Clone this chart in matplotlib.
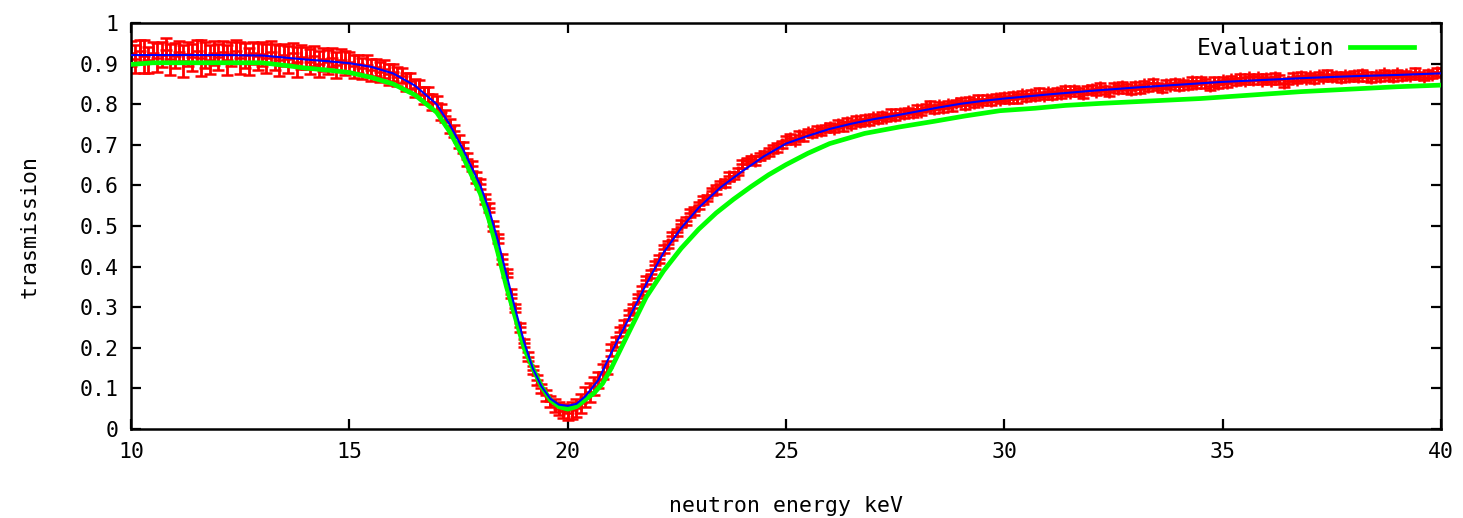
import numpy as np
import matplotlib
matplotlib.use("Agg")
import matplotlib.pyplot as plt

plt.rcParams['font.family'] = ['DejaVu Sans Mono']

# measured transmission, one channel every 0.1 keV from 10 to 40 keV
energy = np.linspace(10.0, 40.0, 301)
transmission = [
    0.925, 0.912, 0.931, 0.918, 0.909, 0.927, 0.915, 0.922, 0.934, 0.911,
    0.919, 0.928, 0.906, 0.924, 0.916, 0.930, 0.913, 0.921, 0.910, 0.926,
    0.917, 0.929, 0.908, 0.923, 0.931, 0.914, 0.920, 0.905, 0.927, 0.918,
    0.924, 0.913, 0.929, 0.916, 0.908, 0.921, 0.911, 0.925, 0.904, 0.917,
    0.913, 0.905, 0.918, 0.899, 0.911, 0.904, 0.915, 0.897, 0.909, 0.901,
    0.904, 0.893, 0.900, 0.888, 0.897, 0.885, 0.891, 0.879, 0.887, 0.874,
    0.879, 0.868, 0.870, 0.855, 0.857, 0.840, 0.842, 0.822, 0.824, 0.806,
    0.803, 0.781, 0.771, 0.746, 0.734, 0.708, 0.693, 0.664, 0.648, 0.619,
    0.604, 0.567, 0.545, 0.500, 0.470, 0.419, 0.385, 0.333, 0.299, 0.251,
    0.212, 0.178, 0.146, 0.121, 0.100, 0.083, 0.068, 0.058, 0.050, 0.044,
    0.040, 0.046, 0.052, 0.063, 0.078, 0.090, 0.106, 0.121, 0.141, 0.152,
    0.195, 0.214, 0.240, 0.256, 0.281, 0.297, 0.323, 0.340, 0.366, 0.381,
    0.405, 0.419, 0.444, 0.455, 0.476, 0.484, 0.506, 0.512, 0.532, 0.537,
    0.551, 0.563, 0.569, 0.585, 0.590, 0.604, 0.606, 0.622, 0.624, 0.634,
    0.652, 0.660, 0.664, 0.661, 0.672, 0.676, 0.683, 0.690, 0.694, 0.701,
    0.712, 0.716, 0.709, 0.724, 0.721, 0.731, 0.728, 0.737, 0.733, 0.741,
    0.744, 0.740, 0.751, 0.746, 0.757, 0.750, 0.761, 0.755, 0.763, 0.758,
    0.768, 0.763, 0.772, 0.767, 0.776, 0.770, 0.779, 0.775, 0.783, 0.778,
    0.787, 0.781, 0.792, 0.796, 0.788, 0.797, 0.791, 0.800, 0.795, 0.803,
    0.806, 0.799, 0.809, 0.803, 0.811, 0.806, 0.814, 0.808, 0.816, 0.811,
    0.818, 0.812, 0.821, 0.815, 0.824, 0.817, 0.826, 0.819, 0.828, 0.821,
    0.829, 0.822, 0.831, 0.825, 0.834, 0.827, 0.836, 0.829, 0.824, 0.835,
    0.838, 0.830, 0.842, 0.835, 0.829, 0.843, 0.837, 0.845, 0.839, 0.834,
    0.846, 0.838, 0.849, 0.842, 0.851, 0.844, 0.839, 0.850, 0.845, 0.853,
    0.844, 0.852, 0.847, 0.856, 0.849, 0.858, 0.851, 0.845, 0.855, 0.849,
    0.859, 0.853, 0.862, 0.856, 0.864, 0.858, 0.866, 0.860, 0.867, 0.858,
    0.865, 0.858, 0.867, 0.861, 0.852, 0.857, 0.866, 0.860, 0.869, 0.863,
    0.869, 0.862, 0.871, 0.865, 0.873, 0.866, 0.870, 0.864, 0.872, 0.867,
    0.873, 0.866, 0.875, 0.869, 0.864, 0.872, 0.868, 0.876, 0.870, 0.866,
    0.876, 0.869, 0.874, 0.870, 0.877, 0.871, 0.868, 0.875, 0.872, 0.879,
    0.878,
]
uncertainty = [
    0.030, 0.034, 0.028, 0.041, 0.032, 0.026, 0.036, 0.030, 0.029, 0.038,
    0.031, 0.027, 0.039, 0.030, 0.033, 0.028, 0.044, 0.031, 0.035, 0.029,
    0.032, 0.026, 0.037, 0.030, 0.028, 0.040, 0.031, 0.034, 0.027, 0.033,
    0.029, 0.035, 0.027, 0.032, 0.038, 0.028, 0.033, 0.026, 0.036, 0.030,
    0.027, 0.031, 0.025, 0.033, 0.028, 0.030, 0.024, 0.032, 0.027, 0.029,
    0.025, 0.028, 0.022, 0.026, 0.024, 0.027, 0.021, 0.025, 0.023, 0.026,
    0.021, 0.024, 0.019, 0.022, 0.020, 0.023, 0.018, 0.021, 0.019, 0.020,
    0.017, 0.019, 0.015, 0.017, 0.014, 0.016, 0.013, 0.015, 0.013, 0.014,
    0.012, 0.013, 0.011, 0.012, 0.011, 0.012, 0.010, 0.011, 0.010, 0.011,
    0.010, 0.011, 0.010, 0.012, 0.012, 0.013, 0.014, 0.015, 0.016, 0.018,
    0.019, 0.021, 0.022, 0.024, 0.025, 0.023, 0.022, 0.020, 0.018, 0.016,
    0.014, 0.013, 0.012, 0.012, 0.011, 0.011, 0.010, 0.011, 0.010, 0.010,
    0.010, 0.009, 0.010, 0.009, 0.010, 0.009, 0.009, 0.010, 0.009, 0.009,
    0.009, 0.010, 0.008, 0.009, 0.011, 0.008, 0.009, 0.010, 0.008, 0.009,
    0.010, 0.008, 0.009, 0.011, 0.009, 0.008, 0.010, 0.009, 0.011, 0.008,
    0.009, 0.010, 0.008, 0.009, 0.011, 0.008, 0.009, 0.010, 0.008, 0.009,
    0.010, 0.008, 0.009, 0.011, 0.009, 0.008, 0.010, 0.009, 0.011, 0.008,
    0.009, 0.010, 0.008, 0.009, 0.011, 0.008, 0.009, 0.010, 0.008, 0.009,
    0.010, 0.008, 0.009, 0.011, 0.009, 0.008, 0.010, 0.009, 0.011, 0.008,
    0.009, 0.010, 0.008, 0.009, 0.011, 0.008, 0.009, 0.010, 0.008, 0.009,
    0.010, 0.008, 0.009, 0.011, 0.009, 0.008, 0.010, 0.009, 0.011, 0.008,
    0.009, 0.010, 0.008, 0.009, 0.011, 0.008, 0.009, 0.010, 0.008, 0.009,
    0.010, 0.008, 0.009, 0.011, 0.009, 0.008, 0.010, 0.009, 0.011, 0.008,
    0.009, 0.010, 0.008, 0.009, 0.011, 0.008, 0.009, 0.010, 0.008, 0.009,
    0.010, 0.008, 0.009, 0.011, 0.009, 0.008, 0.010, 0.009, 0.011, 0.008,
    0.009, 0.010, 0.008, 0.009, 0.011, 0.008, 0.009, 0.010, 0.008, 0.009,
    0.010, 0.008, 0.009, 0.011, 0.009, 0.008, 0.010, 0.009, 0.011, 0.008,
    0.009, 0.010, 0.008, 0.009, 0.011, 0.008, 0.009, 0.010, 0.008, 0.009,
    0.010, 0.008, 0.009, 0.011, 0.009, 0.008, 0.010, 0.009, 0.011, 0.008,
    0.009, 0.010, 0.008, 0.009, 0.011, 0.008, 0.009, 0.010, 0.008, 0.009,
    0.010,
]

# fitted curve
fit_energy = [10.0, 12.0, 13.0, 13.5, 14.0, 14.5, 15.0, 15.5, 16.0, 16.5,
              17.0, 17.3, 17.6, 17.8, 18.0, 18.2, 18.4, 18.6, 18.8, 19.0,
              19.2, 19.4, 19.6, 19.8, 20.0, 20.2, 20.4, 20.7, 21.0, 21.4,
              21.8, 22.2, 22.6, 23.0, 23.5, 24.0, 24.5, 25.0, 25.5, 26.0,
              26.5, 27.0, 27.5, 28.0, 28.5, 29.0, 29.5, 30.0, 31.0, 32.0,
              33.0, 34.0, 35.0, 36.0, 37.0, 38.0, 39.0, 40.0]
fit_trans = [0.921, 0.921, 0.920, 0.915, 0.910, 0.906, 0.901, 0.892, 0.876, 0.846,
             0.800, 0.750, 0.690, 0.645, 0.600, 0.540, 0.465, 0.380, 0.295, 0.215,
             0.150, 0.105, 0.075, 0.060, 0.057, 0.062, 0.080, 0.120, 0.188, 0.272,
             0.357, 0.435, 0.495, 0.545, 0.595, 0.635, 0.672, 0.703, 0.722, 0.739,
             0.752, 0.763, 0.772, 0.782, 0.792, 0.801, 0.808, 0.814, 0.824, 0.833,
             0.841, 0.848, 0.855, 0.860, 0.865, 0.869, 0.872, 0.876]

# evaluated-data curve
eval_energy = [10.0, 10.5, 13.0, 13.5, 14.0, 14.5, 15.0, 15.5, 16.0, 16.5,
               17.0, 17.3, 17.6, 17.8, 18.0, 18.2, 18.4, 18.6, 18.8, 19.0,
               19.2, 19.4, 19.6, 19.8, 20.0, 20.2, 20.4, 20.6, 20.8, 21.0,
               21.35, 21.8, 22.2, 22.6, 23.0, 23.4, 23.8, 24.2, 24.6, 25.0,
               25.5, 26.0, 26.8, 27.6, 28.4, 29.1, 29.9, 30.7, 31.4, 32.2,
               34.5, 36.8, 39.0, 40.0]
eval_trans = [0.898, 0.902, 0.902, 0.896, 0.889, 0.884, 0.878, 0.866, 0.850, 0.823,
              0.780, 0.732, 0.672, 0.625, 0.580, 0.515, 0.435, 0.350, 0.275, 0.200,
              0.150, 0.105, 0.072, 0.055, 0.049, 0.055, 0.072, 0.088, 0.112, 0.150,
              0.227, 0.325, 0.390, 0.445, 0.492, 0.532, 0.566, 0.597, 0.626, 0.651,
              0.679, 0.703, 0.728, 0.744, 0.758, 0.771, 0.784, 0.790, 0.797, 0.802,
              0.814, 0.831, 0.843, 0.847]

x_ticks = [10, 15, 20, 25, 30, 35, 40]
y_ticks = [0, 0.1, 0.2, 0.3, 0.4, 0.5, 0.6, 0.7, 0.8, 0.9, 1]
y_tick_labels = ["0", "0.1", "0.2", "0.3", "0.4", "0.5", "0.6", "0.7", "0.8", "0.9", "1"]

fig = plt.figure(figsize=(14.63, 5.18), dpi=100)
ax = fig.add_axes([131 / 1463, 89 / 518, 1310 / 1463, 406 / 518])

ax.errorbar(energy, transmission, yerr=uncertainty, fmt='+', color='#ff0000',
            markersize=8, markeredgewidth=1.8, elinewidth=2.0,
            capsize=4, capthick=1.8, zorder=2)
ax.plot(eval_energy, eval_trans, color='#00ff00', linewidth=3.4,
        label='Evaluation', zorder=3)
ax.plot(fit_energy, fit_trans, color='#0000ff', linewidth=1.5, zorder=4)

ax.set_xlim(10, 40)
ax.set_ylim(0, 1)
ax.set_xticks(x_ticks)
ax.set_yticks(y_ticks)
ax.set_yticklabels(y_tick_labels)
ax.tick_params(direction='in', length=7, width=1.6, labelsize=15.5,
               top=True, right=True, pad=9)
for s in ax.spines.values():
    s.set_linewidth(1.8)

ax.set_xlabel('neutron energy keV', fontsize=15.5, labelpad=25)
ax.set_ylabel('trasmission', fontsize=15.5, labelpad=29)

leg = ax.legend(loc='upper right', bbox_to_anchor=(0.9866, 0.9887),
                frameon=False, markerfirst=False,
                fontsize=16.5, handlelength=2.8, handletextpad=0.7,
                borderaxespad=0.0)

fig.savefig('out.png', dpi=100, facecolor='white')
